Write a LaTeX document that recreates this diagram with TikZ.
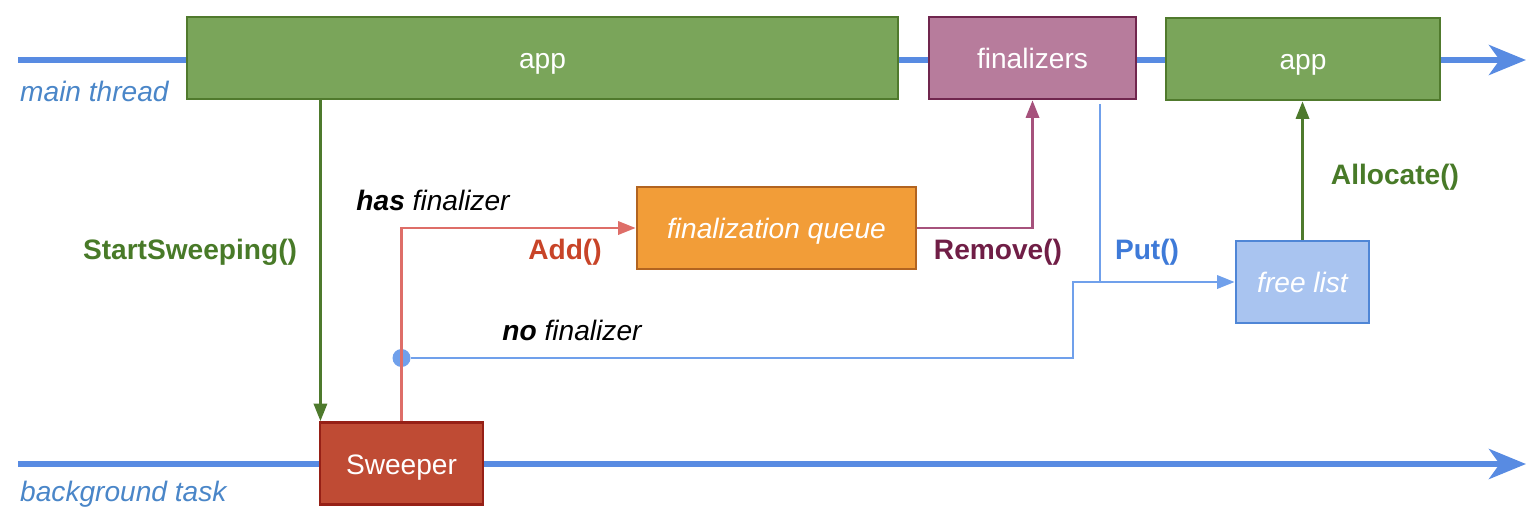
\documentclass[tikz,border=0pt]{standalone}
\usepackage{fontspec}
\setmainfont{Liberation Sans}
\usepackage{tikz}
\usetikzlibrary{positioning, arrows.meta}

\definecolor{threadblue}{RGB}{88,139,226}
\definecolor{threadtxt}{RGB}{74,134,200}
\definecolor{appfill}{RGB}{122,165,90}
\definecolor{appdraw}{RGB}{80,122,45}
\definecolor{finfill}{RGB}{183,124,156}
\definecolor{findraw}{RGB}{112,38,78}
\definecolor{queuefill}{RGB}{242,157,56}
\definecolor{queuedraw}{RGB}{178,100,32}
\definecolor{freefill}{RGB}{169,196,240}
\definecolor{freedraw}{RGB}{79,134,214}
\definecolor{sweepfill}{RGB}{191,75,52}
\definecolor{sweepdraw}{RGB}{150,32,22}
\definecolor{redline}{RGB}{222,110,104}
\definecolor{purpleline}{RGB}{166,82,124}
\definecolor{blueline}{RGB}{112,160,235}
\definecolor{greenline}{RGB}{78,122,45}
\definecolor{greentxt}{RGB}{72,122,40}
\definecolor{redtxt}{RGB}{200,68,40}
\definecolor{purpletxt}{RGB}{112,30,70}
\definecolor{bluetxt}{RGB}{62,122,216}

\begin{document}
\begin{tikzpicture}[x=0.02cm, y=-0.02cm, font=\fontsize{16}{19}\selectfont,
    box/.style={draw, line width=1.5pt, text=white, inner sep=0pt, minimum height=82*0.02cm,
      text height=14pt, text depth=2pt},
    thread/.style={line width=3.6pt, threadblue, -{Stealth[length=21pt, width=17pt, inset=6pt]}},
    conn/.style={line width=1.6pt, -{Triangle[length=10pt, width=7.5pt]}},
    lbl/.style={font=\fontsize{16}{19}\selectfont\bfseries},
    tlbl/.style={threadtxt, anchor=west, font=\fontsize{16}{19}\selectfont\itshape}]
  \useasboundingbox (0,0) rectangle (1540,528);
  % linee dei thread
  \draw[thread] (18,60) -- (1526,60);
  \draw[thread] (18,464) -- (1526,464);
  \node[tlbl] (mainlbl) at (14,91) {main thread};
  \node[tlbl] (bglbl) at (14,494) {background task};
  % blocchi
  \node[box, fill=appfill, draw=appdraw, minimum width=711*0.02cm] (app1) at (542.5,58) {app};
  \node[box, fill=finfill, draw=findraw, minimum width=207*0.02cm] (fin) at (1032.5,58) {finalizers};
  \node[box, fill=appfill, draw=appdraw, minimum width=274*0.02cm] (app2) at (1303,59) {app};
  \node[box, fill=sweepfill, draw=sweepdraw, minimum width=163*0.02cm] (sweep) at (401.5,463.5) {Sweeper};
  \node[box, fill=queuefill, draw=queuedraw, minimum width=279*0.02cm, font=\fontsize{16}{19}\selectfont\itshape] (queue) at (776.5,228) {finalization queue};
  \node[box, fill=freefill, draw=freedraw, minimum width=133*0.02cm, font=\fontsize{16}{19}\selectfont\itshape] (free) at (1302.5,282) {free list};
  \node[circle, fill=blueline, inner sep=0pt, minimum size=18*0.02cm] (split) at (401.5,358) {};
  \coordinate (putx) at (1100,0);
  \coordinate (jog) at (1073,358);
  % connettori
  \draw[conn, greenline] ([xshift=1pt]sweep.north west |- app1.south) -- ([xshift=1pt]sweep.north west);
  \draw[conn, redline] (sweep.north) |- (queue.west);
  \draw[conn, purpleline] (queue.east) -| (fin.south);
  \draw[conn, blueline] ([yshift=-2pt]fin.south -| putx) |- (free.west);
  \draw[line width=1.6pt, blueline] (split) -- (jog) |- (putx |- free.west);
  \draw[conn, greenline] (free.north) -- (free.north |- app2.south);
  % etichette
  \node[lbl, greentxt] (startlbl) at (190,252) {StartSweeping()};
  \node[lbl, redtxt] (addlbl) at (565,252) {Add()};
  \node[lbl, purpletxt] (remlbl) at (998,252) {Remove()};
  \node[lbl, bluetxt] (putlbl) at (1147,252) {Put()};
  \node[lbl, greentxt] (alloclbl) at (1395,177) {Allocate()};
  \node[font=\fontsize{16}{19}\selectfont\itshape] (haslbl) at (433,200) {{\bfseries has} finalizer};
  \node[font=\fontsize{16}{19}\selectfont\itshape] (nolbl) at (572,330) {{\bfseries no} finalizer};
\end{tikzpicture}
\end{document}
